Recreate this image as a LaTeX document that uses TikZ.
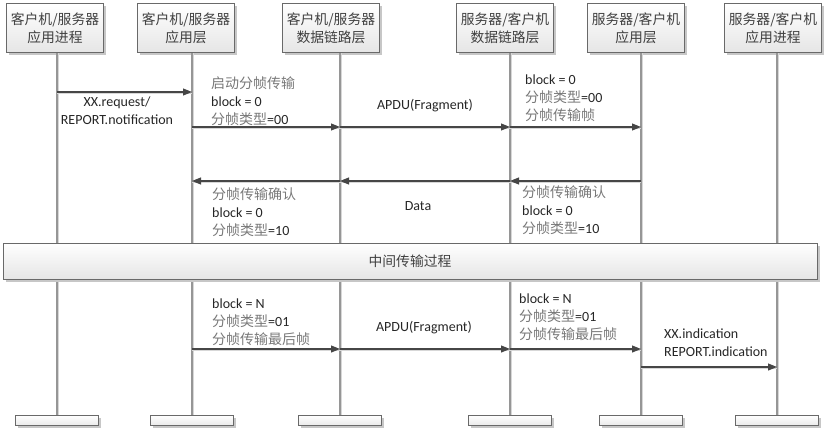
\documentclass[tikz,border=0pt]{standalone}
\usepackage{fontspec}
\setmainfont{Carlito}
\newfontfamily\cjk{Noto Sans CJK SC}
\usetikzlibrary{arrows.meta, shadows}
\definecolor{boxline}{RGB}{105, 105, 105}
\definecolor{lifegray}{RGB}{150, 150, 150}
\definecolor{shadegray}{RGB}{215, 215, 215}
\definecolor{msggray}{RGB}{70, 70, 70}
\definecolor{zhgray}{RGB}{120, 120, 120}
\newcommand{\zh}[1]{{\cjk\color{zhgray}#1}}

\begin{document}
\begin{tikzpicture}[x=1pt, y=-1pt,
  headbox/.style={draw=boxline, line width=0.8pt, top color=white, bottom color=black!10, minimum width=97pt, minimum height=49pt, align=center, inner sep=2pt, font=\cjk\fontsize{13.8}{18}\selectfont, text=black!75, drop shadow={shadow xshift=2.5pt, shadow yshift=-2.5pt, fill=black!22, opacity=1}},
  footbox/.style={draw=boxline, line width=0.8pt, top color=white, bottom color=black!8, minimum width=83pt, minimum height=10pt, inner sep=0pt, drop shadow={shadow xshift=2.5pt, shadow yshift=-2.5pt, fill=black!22, opacity=1}},
  bandbox/.style={draw=boxline, line width=0.8pt, top color=white, bottom color=black!10, minimum width=814pt, minimum height=36pt, font=\cjk\fontsize{13.8}{18}\selectfont, text=black!75, drop shadow={shadow xshift=2.5pt, shadow yshift=-2.5pt, fill=black!22, opacity=1}},
  life/.style={draw=lifegray, line width=1.2pt, preaction={draw=shadegray, line width=1.2pt, transform canvas={xshift=1.8pt}}},
  msg/.style={draw=msggray, line width=1.1pt, -{Triangle[length=9pt, width=7pt]}, preaction={draw=shadegray, -, line width=1.2pt, transform canvas={yshift=-1.8pt}}},
  lbl/.style={anchor=west, align=left, inner sep=0pt, font=\fontsize{14}{18}\selectfont, text=black!85},
  mid/.style={align=center, inner sep=0pt, font=\fontsize{14}{18}\selectfont, text=black!85}
]
  \useasboundingbox (0,0) rectangle (831,431);

  \node[headbox] (h1) at (55,28) {客户机/服务器\\应用进程};
  \node[headbox] (h2) at (186,28) {客户机/服务器\\应用层};
  \node[headbox] (h3) at (331,28) {客户机/服务器\\数据链路层};
  \node[headbox] (h4) at (505,28) {服务器/客户机\\数据链路层};
  \node[headbox] (h5) at (636,28) {服务器/客户机\\应用层};
  \node[headbox] (h6) at (773,28) {服务器/客户机\\应用进程};

  \foreach \i/\x in {1/57, 2/192, 3/340, 4/510, 5/641, 6/777}
    \node[footbox] (f\i) at (\x,420) {};

  \foreach \i in {1,...,6}
    \draw[life] (f\i.north) -- (f\i.north |- h\i.south);

  \node[bandbox] (band) at (410,261) {中间传输过程};

  \foreach \r/\y in {a/92, b/127, c/181, d/349, e/367}
    \foreach \i in {1,...,6}
      \coordinate (\r\i) at (f\i |- 0,\y);

  \draw[msg] (a1) -- (a2);
  \draw[msg] (b2) -- (b3);
  \draw[msg] (b3) -- (b4);
  \draw[msg] (b4) -- (b5);
  \draw[msg] (c5) -- (c4);
  \draw[msg] (c4) -- (c3);
  \draw[msg] (c3) -- (c2);
  \draw[msg] (d2) -- (d3);
  \draw[msg] (d3) -- (d4);
  \draw[msg] (d4) -- (d5);
  \draw[msg] (e5) -- (e6);

  \node[mid] (req) at (117,111) {XX.request/\\REPORT.notification};
  \node[lbl] (start) at (211,101) {\zh{启动分帧传输}\\block = 0\\\zh{分帧类型}=00};
  \node[mid] (apdu1) at (425,106) {APDU(Fragment)};
  \node[lbl] (frame) at (525,98) {block = 0\\\zh{分帧类型}=00\\\zh{分帧传输帧}};
  \node[lbl] (ack1) at (212,212) {\zh{分帧传输确认}\\block = 0\\\zh{分帧类型}=10};
  \node[mid] (data) at (418,206) {Data};
  \node[lbl] (ack2) at (522,210) {\zh{分帧传输确认}\\block = 0\\\zh{分帧类型}=10};
  \node[lbl] (last1) at (212,322) {block = N\\\zh{分帧类型}=01\\\zh{分帧传输最后帧}};
  \node[mid] (apdu2) at (424,328) {APDU(Fragment)};
  \node[lbl] (last2) at (519,317) {block = N\\\zh{分帧类型}=01\\\zh{分帧传输最后帧}};
  \node[lbl] (ind) at (664,343) {XX.indication\\REPORT.indication};
\end{tikzpicture}
\end{document}
